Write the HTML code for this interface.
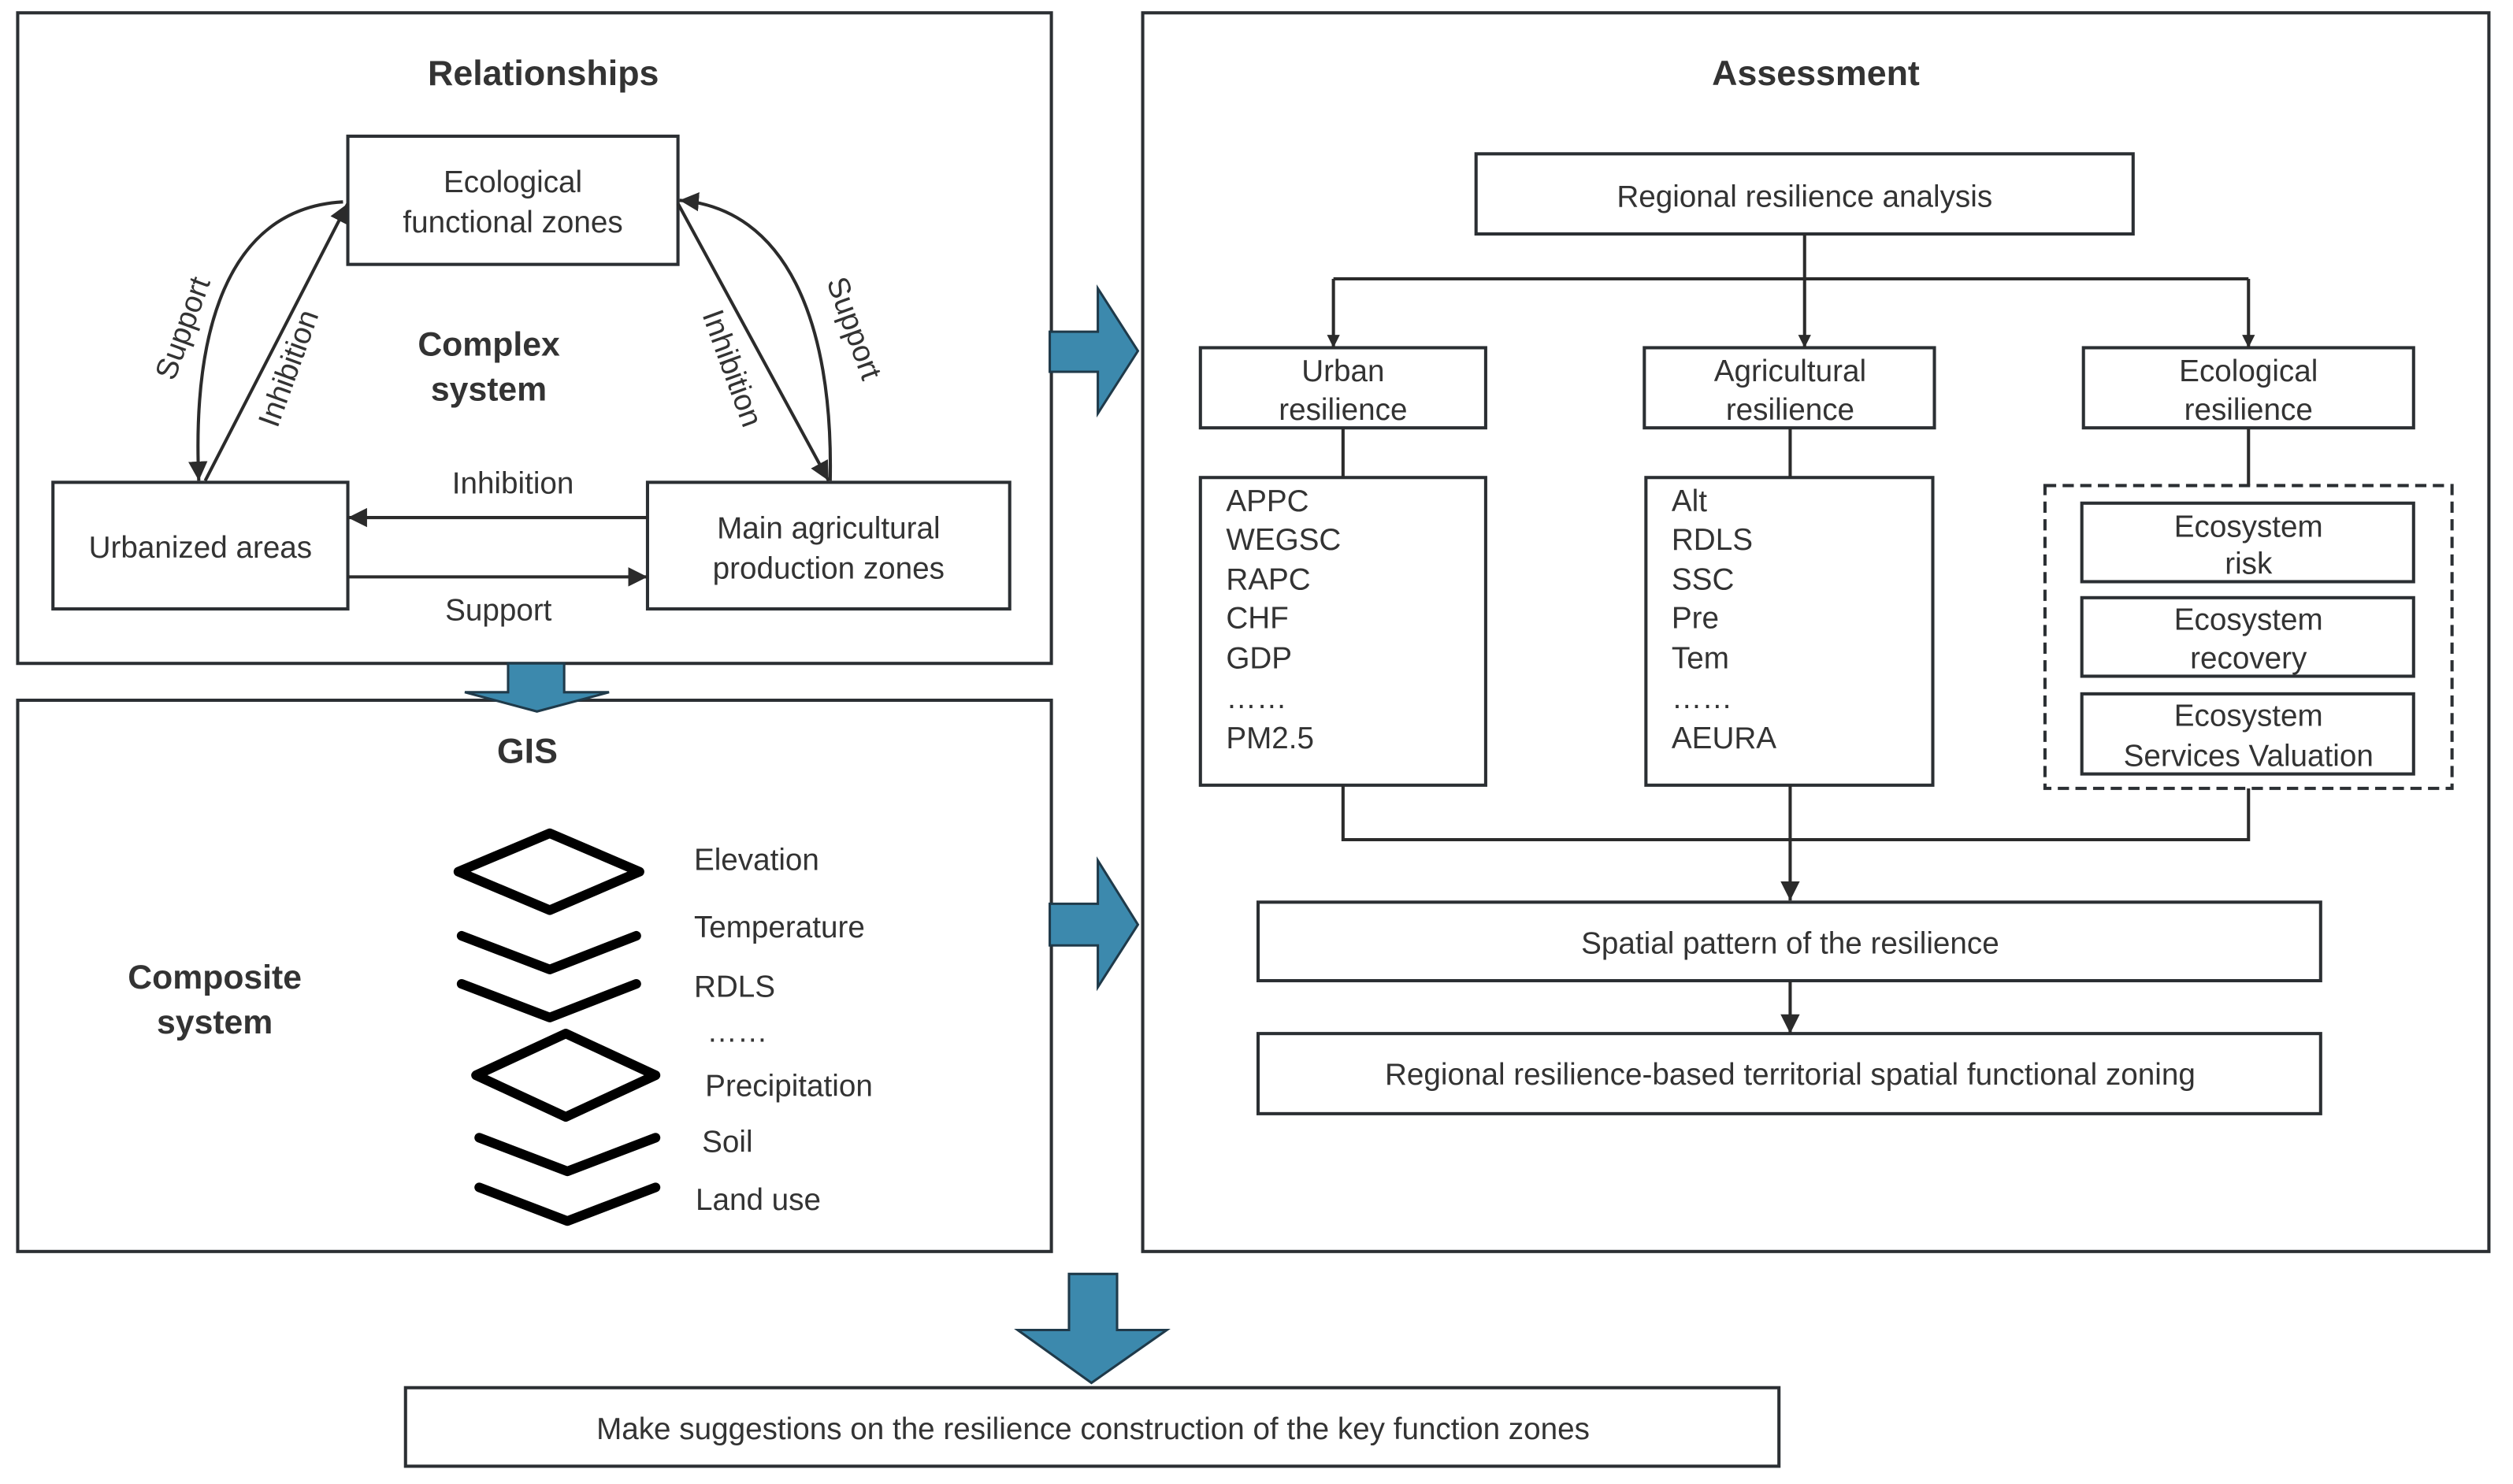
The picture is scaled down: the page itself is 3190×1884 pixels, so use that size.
<!DOCTYPE html>
<html><head><meta charset="utf-8"><style>
html,body{margin:0;padding:0;background:#fff}
svg{display:block}
text{font-family:"Liberation Sans",sans-serif;fill:#333}
</style></head><body>
<svg width="3190" height="1884" viewBox="0 0 1568 926.1" xmlns="http://www.w3.org/2000/svg">
<defs>
<marker id="ah" viewBox="0 0 10 10" refX="10" refY="5" markerWidth="8" markerHeight="8" markerUnits="userSpaceOnUse" orient="auto"><path d="M0,0L10,5L0,10z" fill="#2b2b2b"/></marker>
<marker id="ah2" viewBox="0 0 10 10" refX="10" refY="5" markerWidth="12" markerHeight="12" markerUnits="userSpaceOnUse" orient="auto"><path d="M0,0L10,5L0,10z" fill="#2b2b2b"/></marker>
</defs>
<g fill="none" stroke="#2b2f33" stroke-width="2">
<rect x="11" y="8" width="645" height="406"/>
<rect x="11" y="437" width="645" height="344"/>
<rect x="713" y="8" width="840" height="773"/>
<rect x="217" y="85" width="206" height="80"/>
<rect x="33" y="301" width="184" height="79"/>
<rect x="404" y="301" width="226" height="79"/>
<rect x="253" y="866" width="857" height="49"/>
<rect x="921" y="96" width="410" height="50"/>
<rect x="749" y="217" width="178" height="50"/>
<rect x="1026" y="217" width="181" height="50"/>
<rect x="1300" y="217" width="206" height="50"/>
<rect x="749" y="298" width="178" height="192"/>
<rect x="1027" y="298" width="179" height="192"/>
<rect x="1276" y="303" width="254" height="189" stroke-dasharray="7,4"/>
<rect x="1299" y="314" width="207" height="49"/>
<rect x="1299" y="373" width="207" height="49"/>
<rect x="1299" y="433" width="207" height="50"/>
<rect x="785" y="563" width="663" height="49"/>
<rect x="785" y="645" width="663" height="50"/>
</g>
<g fill="none" stroke="#2b2b2b" stroke-width="2">
<path d="M1126,146V174M832,174H1403"/>
<path d="M832,174V217" marker-end="url(#ah)"/>
<path d="M1126,174V217" marker-end="url(#ah)"/>
<path d="M1403,174V217" marker-end="url(#ah)"/>
<path d="M838,267V298M1117,267V298M1403,267V303"/>
<path d="M838,490V524H1403V492"/>
<path d="M1117,490V562" marker-end="url(#ah2)"/>
<path d="M1117,612V645" marker-end="url(#ah2)"/>
<path d="M404,323H217" marker-end="url(#ah2)"/>
<path d="M217,360H404" marker-end="url(#ah2)"/>
<path d="M128,300L217,127" marker-end="url(#ah2)"/>
<path d="M214,126C140,130 120,210 124,300" marker-end="url(#ah2)"/>
<path d="M423,127L517,300" marker-end="url(#ah2)"/>
<path d="M518,300C520,200 490,130 424,125" marker-end="url(#ah2)"/>
</g>
<g fill="#3c89ad" stroke="#1f3a4a" stroke-width="1.5">
<path d="M655,207H685V180L710,219L685,258V232H655z"/>
<path d="M655,564H685V537L710,577L685,616V590H655z"/>
<path d="M317,414H352V432H380L335,444L290,432H317z"/>
<path d="M667,795H697V830H728L681,863L635,830H667z"/>
</g>
<g fill="none" stroke="#000" stroke-width="6" stroke-linejoin="round" stroke-linecap="round">
<path d="M343,520L399,544L343,568L286,544z"/>
<path d="M288,584L343,605L397,584"/>
<path d="M288,614L343,635L397,614"/>
<path d="M353,645L409,671L353,697L297,671z"/>
<path d="M299,710L354,731L409,710"/>
<path d="M299,741L354,762L409,741"/>
</g>
<g font-size="20" text-anchor="middle">
<text x="339" y="53" font-weight="bold" font-size="22">Relationships</text>
<text x="1133" y="53" font-weight="bold" font-size="22">Assessment</text>
<text x="329" y="476" font-weight="bold" font-size="22">GIS</text>
<text x="305" y="222" font-weight="bold" font-size="21">Complex</text>
<text x="305" y="250" font-weight="bold" font-size="21">system</text>
<text x="134" y="617" font-weight="bold" font-size="21">Composite</text>
<text x="134" y="645" font-weight="bold" font-size="21">system</text>
<text x="320" y="120" font-size="19">Ecological</text>
<text x="320" y="145" font-size="19">functional zones</text>
<text x="125" y="348" font-size="19">Urbanized areas</text>
<text x="517" y="336" font-size="19">Main agricultural</text>
<text x="517" y="361" font-size="19">production zones</text>
<text x="320" y="308" font-size="19">Inhibition</text>
<text x="311" y="387" font-size="19">Support</text>
<text x="120" y="207" font-size="19" transform="rotate(-70 120 207)">Support</text>
<text x="186" y="232" font-size="19" transform="rotate(-70 186 232)">Inhibition</text>
<text x="451" y="232" font-size="19" transform="rotate(70 451 232)">Inhibition</text>
<text x="527" y="207" font-size="19" transform="rotate(70 527 207)">Support</text>
<text x="1126" y="129" font-size="19">Regional resilience analysis</text>
<text x="838" y="238" font-size="19">Urban</text>
<text x="838" y="262" font-size="19">resilience</text>
<text x="1117" y="238" font-size="19">Agricultural</text>
<text x="1117" y="262" font-size="19">resilience</text>
<text x="1403" y="238" font-size="19">Ecological</text>
<text x="1403" y="262" font-size="19">resilience</text>
<text x="1403" y="335" font-size="19">Ecosystem</text>
<text x="1403" y="358" font-size="19">risk</text>
<text x="1403" y="393" font-size="19">Ecosystem</text>
<text x="1403" y="417" font-size="19">recovery</text>
<text x="1403" y="453" font-size="19">Ecosystem</text>
<text x="1403" y="478" font-size="19">Services Valuation</text>
<text x="1117" y="595" font-size="19">Spatial pattern of the resilience</text>
<text x="1117" y="677" font-size="19">Regional resilience-based territorial spatial functional zoning</text>
<text x="682" y="898" font-size="19">Make suggestions on the resilience construction of the key function zones</text>
</g>
<g font-size="19">
<text x="765" y="319">APPC</text><text x="765" y="343">WEGSC</text><text x="765" y="368">RAPC</text><text x="765" y="392">CHF</text><text x="765" y="417">GDP</text><text x="765" y="442">……</text><text x="765" y="467">PM2.5</text>
<text x="1043" y="319">Alt</text><text x="1043" y="343">RDLS</text><text x="1043" y="368">SSC</text><text x="1043" y="392">Pre</text><text x="1043" y="417">Tem</text><text x="1043" y="442">……</text><text x="1043" y="467">AEURA</text>
<text x="433" y="543">Elevation</text><text x="433" y="585">Temperature</text><text x="433" y="622">RDLS</text><text x="441" y="650">……</text><text x="440" y="684">Precipitation</text><text x="438" y="719">Soil</text><text x="434" y="755">Land use</text>
</g>
</svg>
</body></html>
